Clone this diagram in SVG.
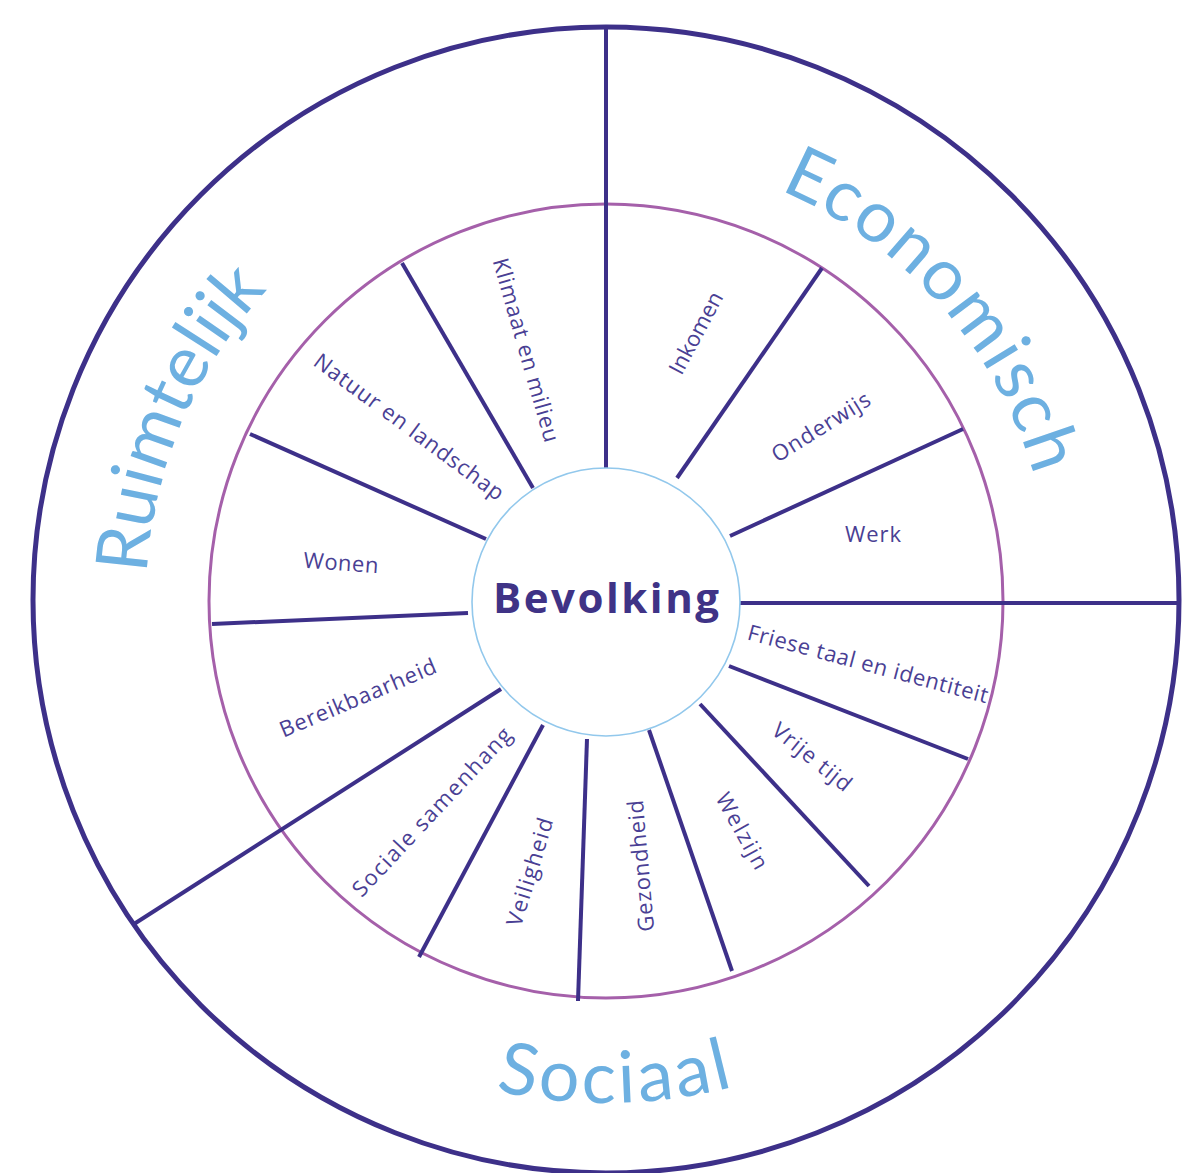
<svg xmlns="http://www.w3.org/2000/svg" width="1189" height="1173" viewBox="0 0 1189 1173">
<style>
.ring-outer{fill:none;stroke:#3d3089;stroke-width:5}
.ring-mid{fill:none;stroke:#a560aa;stroke-width:3}
.ring-inner{fill:#fff;stroke:#92c8ec;stroke-width:1.6}
.spoke{stroke:#3d3089;stroke-width:4;stroke-linecap:butt;fill:none}
.lbl{font-family:'Open Sans','Liberation Sans',sans-serif;font-size:22px;fill:#4a3f94;text-anchor:middle}
.dom{font-family:Lato,'Liberation Sans',sans-serif;font-size:72px;fill:#6db0e1;text-anchor:middle}
.center{font-family:'Open Sans','Liberation Sans',sans-serif;font-weight:700;font-size:42px;fill:#3f3386;text-anchor:middle}
</style>
<defs>
<path id="arc-eco" d="M 631.7 155.7 A 446 446 0 0 1 1051.3 626.7"/>
<path id="arc-ruim" d="M 179.5 773.3 A 460 460 0 0 1 433.7 174.5"/>
<path id="arc-soc" d="M 257.3 962.1 A 502 502 0 0 0 967.1 949.7"/>
</defs>
<rect width="1189" height="1173" fill="#fff"/>
<g id="rings">
<circle class="ring-outer" cx="606" cy="600" r="573"/>
<circle class="ring-mid" cx="606" cy="601" r="397"/>
</g>
<g id="connectors">
<line class="spoke" x1="606" y1="27" x2="606" y2="468"/>
<line class="spoke" x1="677" y1="478" x2="822" y2="268"/>
<line class="spoke" x1="730" y1="536" x2="963" y2="429"/>
<line class="spoke" x1="740" y1="603" x2="1179" y2="603"/>
<line class="spoke" x1="729" y1="666" x2="968" y2="759"/>
<line class="spoke" x1="700" y1="704" x2="869" y2="886"/>
<line class="spoke" x1="649" y1="730" x2="732" y2="971"/>
<line class="spoke" x1="587" y1="739" x2="578" y2="1001"/>
<line class="spoke" x1="543" y1="725" x2="419" y2="957"/>
<line class="spoke" x1="501" y1="689" x2="134" y2="924"/>
<line class="spoke" x1="468" y1="613" x2="212" y2="624"/>
<line class="spoke" x1="486" y1="539" x2="250" y2="434"/>
<line class="spoke" x1="533" y1="488" x2="402" y2="263"/>
</g>
<g id="bevolking">
<circle class="ring-inner" cx="606" cy="602" r="134"/>
<text class="center" x="606" y="613" textLength="226">Bevolking</text>
</g>
<g id="klimaat"><text class="lbl" transform="translate(526 350) rotate(74)" dy="7.5" textLength="190">Klimaat en milieu</text></g>
<g id="inkomen"><text class="lbl" transform="translate(696 333) rotate(-62)" dy="7.5" textLength="90">Inkomen</text></g>
<g id="onderwijs"><text class="lbl" transform="translate(821 427) rotate(-32)" dy="7.5" textLength="112">Onderwijs</text></g>
<g id="werk"><text class="lbl" transform="translate(873 534)" dy="7.5" textLength="56">Werk</text></g>
<g id="friese"><text class="lbl" transform="translate(868 664) rotate(15)" dy="7.5" textLength="248">Friese taal en identiteit</text></g>
<g id="vrijetijd"><text class="lbl" transform="translate(812 757) rotate(39)" dy="7.5" textLength="95">Vrije tijd</text></g>
<g id="welzijn"><text class="lbl" transform="translate(742 831) rotate(61)" dy="7.5" textLength="84">Welzijn</text></g>
<g id="gezondheid"><text class="lbl" transform="translate(641 866) rotate(-95)" dy="7.5" textLength="132">Gezondheid</text></g>
<g id="veiligheid"><text class="lbl" transform="translate(530 872) rotate(-73)" dy="7.5" textLength="112">Veiligheid</text></g>
<g id="sociale"><text class="lbl" transform="translate(432 812) rotate(-47)" dy="7.5" textLength="222">Sociale samenhang</text></g>
<g id="bereikbaarheid"><text class="lbl" transform="translate(358 698) rotate(-23)" dy="7.5" textLength="168">Bereikbaarheid</text></g>
<g id="wonen"><text class="lbl" transform="translate(341 563) rotate(4)" dy="7.5" textLength="75">Wonen</text></g>
<g id="natuur"><text class="lbl" transform="translate(409 427) rotate(36.5)" dy="7.5" textLength="230">Natuur en landschap</text></g>
<g id="economisch"><text class="dom"><textPath href="#arc-eco" startOffset="50%" textLength="395">Economisch</textPath></text></g>
<g id="ruimtelijk"><text class="dom"><textPath href="#arc-ruim" startOffset="50%" textLength="315">Ruimtelijk</textPath></text></g>
<g id="sociaal"><text class="dom"><textPath href="#arc-soc" startOffset="50%" textLength="240">Sociaal</textPath></text></g>
</svg>
